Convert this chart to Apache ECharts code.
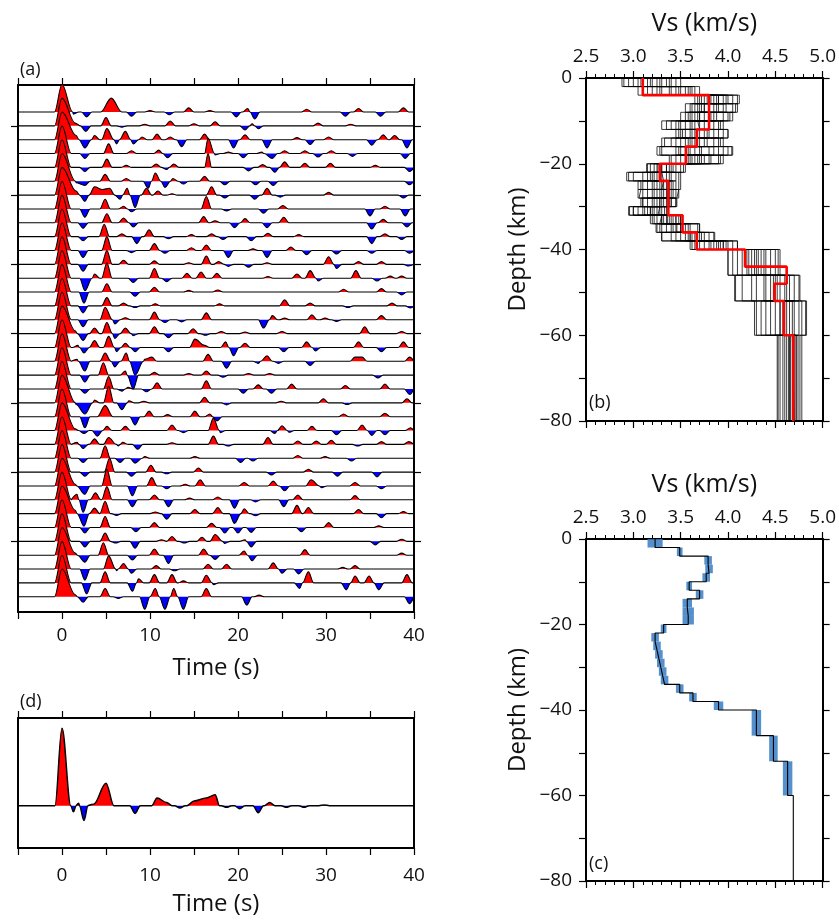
<!DOCTYPE html>
<html><head><meta charset="utf-8">
<script src="https://cdn.jsdelivr.net/npm/echarts@6/dist/echarts.min.js"></script>
<style>html,body{margin:0;padding:0;background:#fff}#chart{width:839px;height:921px}</style>
</head><body><div id="chart"></div>
<script>
// ---------------- DATA ----------------
// Panel (a): receiver-function traces, each a list of pulses [time (s), amplitude (trace spacings), halfWidthLeft?, halfWidthRight?]
const timeTicks = [0, 10, 20, 30, 40];
const traceTickRows = [2, 7, 12, 17, 22, 27, 32];
const rfTraces = [
 [[0,2,0.85,1.05],[1.3,-0.15],[2.8,-0.35],[5.6,1.0,1.2],[7.9,-0.3],[10.0,0.1],[12.2,-0.2],[14.4,0.3],[16.8,0.1],[19.8,-0.35],[21.1,0.25],[21.9,-0.5],[27.8,0.2],[32.2,-0.3],[33.7,0.25],[36.2,-0.3],[38.8,0.3]],
 [[0,2,0.85,1.05],[1.5,0.2],[2.7,-0.4],[5.0,0.6],[6.8,-0.1],[9.4,0.12],[12.3,0.35],[15.0,0.15],[17.4,0.3],[20.8,-0.3],[21.6,0.15],[22.3,-0.2],[29.1,0.2],[32.8,0.12]],
 [[0,2,0.85,1.05],[1.6,0.3],[2.6,-0.6],[3.7,0.3],[5.1,0.8],[6.2,-0.3],[7.2,0.6],[8.1,-0.3],[9.1,0.2],[10.8,0.4],[12.3,0.2],[13.6,-0.5],[16.2,0.4],[19.5,-0.6],[20.8,0.35],[23.3,-0.6],[26.7,0.15],[28.2,-0.35],[30.3,0.2],[35.2,-0.4],[36.5,0.35],[37.8,0.3],[39.2,-0.6]],
 [[0,2,0.85,1.05],[2.6,-0.35],[5.3,0.7],[7.9,0.2],[11.0,0.25],[12.0,-0.3],[16.6,1.1,0.4],[17.4,-0.1],[18.9,0.1],[20.6,-0.3],[22.7,0.1],[23.9,-0.35],[25.3,0.2],[27.6,0.2],[29.1,-0.25],[30.6,0.2],[33.0,-0.2],[39.0,-0.35]],
 [[0,2,0.85,1.05],[2.6,-0.3],[5.1,0.6],[7.3,0.15],[10.7,0.25],[11.9,-0.15],[12.7,0.25],[16.6,1.0,0.4],[21.2,-0.25],[22.8,0.2],[24.2,-0.35],[25.3,0.4],[27.6,0.3],[30.5,0.3],[35.6,0.15],[39.5,-0.3]],
 [[0,2,0.85,1.05],[1.6,-0.1],[2.6,-0.3],[4.9,0.5],[7.3,0.2],[9.8,-0.5],[10.6,0.6],[11.7,-0.45],[12.6,0.2],[13.8,-0.2],[16.2,0.35],[18.5,-0.25],[22.0,-0.25],[24.0,-0.3],[39.5,-0.25]],
 [[0,2,0.85,1.05],[1.6,0.3],[2.6,-0.45],[3.7,0.6],[4.6,0.4],[5.4,0.5],[6.6,-0.3],[7.4,0.5],[8.3,-0.9],[9.6,0.5],[10.9,0.3],[12.5,0.1],[17.0,0.6],[18.5,-0.2],[21.9,-0.3],[23.3,0.5],[24.8,-0.15],[30.3,0.2],[38.8,-0.2]],
 [[0,2,0.85,1.05],[2.6,-0.6],[4.9,0.7],[7.0,0.2],[7.9,-0.2],[16.4,0.9],[18.7,-0.15],[22.9,-0.3],[25.1,0.25],[35.0,-0.5],[36.7,0.2],[39.0,-0.5]],
 [[0,2,0.85,1.05],[2.4,-0.4],[5.1,0.65],[7.0,0.35],[8.1,-0.3],[16.1,0.45],[17.4,0.15],[19.6,-0.35],[20.8,0.3],[23.3,-0.35],[25.2,0.4],[35.2,-0.45],[36.5,0.25],[39.2,-0.3]],
 [[0,2,0.85,1.05],[2.4,-0.3],[4.8,0.9],[6.8,0.2],[8.5,-0.5],[9.9,0.5],[12.1,-0.15],[14.7,0.15],[17.0,0.2],[18.3,-0.2],[21.5,-0.3],[23.4,0.25],[26.9,0.15],[35.2,-0.5],[36.7,0.2],[38.6,-0.2]],
 [[0,2,0.85,1.05],[2.4,-0.5],[5.1,1.0],[7.9,-0.15],[10.5,0.5],[11.7,-0.2],[14.7,0.2],[16.4,0.4],[18.9,-0.5],[21.7,0.12],[23.3,-0.5],[26.0,0.25],[27.8,-0.3],[31.2,-0.25],[35.2,-0.2],[39.5,-0.2]],
 [[0,2,0.85,1.05],[2.4,-0.5],[5.1,1.0],[7.0,0.3],[10.5,0.25],[14.4,0.12],[16.4,0.6],[17.8,0.2],[18.9,-0.15],[21.2,-0.2],[23.3,0.12],[30.3,0.55],[31.2,-0.3],[33.7,0.2],[36.3,0.2],[39.4,-0.12]],
 [[0,2,0.85,1.05],[2.6,-0.9],[3.7,0.3],[5.1,1.1],[8.1,-0.3],[10.5,0.7],[11.9,-0.25],[14.2,0.35],[15.8,0.45],[17.6,0.35],[23.4,0.12],[26.7,0.3],[28.2,0.55],[29.1,-0.2],[33.4,0.55],[35.8,-0.2],[37.3,0.15],[38.6,0.15]],
 [[0,2,0.85,1.05],[2.5,-0.8],[5.1,0.6],[8.3,-0.3],[10.5,0.35],[14.4,0.12],[17.7,0.15],[32.0,0.2],[36.3,0.25],[38.6,-0.2]],
 [[0,2,0.85,1.05],[2.4,-0.5],[5.1,0.6],[7.0,0.2],[8.3,-0.12],[10.6,0.15],[17.9,0.15],[25.3,0.45],[28.2,0.2],[32.5,-0.12],[37.5,0.2],[39.6,-0.15]],
 [[0,2,0.85,1.05],[2.4,-0.5],[4.9,0.9],[6.0,-0.3],[7.2,0.15],[10.5,0.55],[11.7,-0.2],[13.6,-0.15],[16.4,0.5],[22.9,-0.6],[23.9,0.3],[25.3,0.12],[28.4,0.35],[29.9,0.12],[31.2,-0.12],[36.3,0.3]],
 [[0,2,0.85,1.05],[1.5,0.2],[2.4,-0.5],[3.7,0.4],[5.1,0.8],[6.0,-0.35],[7.2,0.4],[8.1,-0.15],[10.5,0.5],[12.1,-0.3],[14.9,0.35],[16.3,-0.12],[18.1,0.15],[20.8,0.12],[25.0,0.15],[34.4,0.5],[38.6,0.15]],
 [[0,2,0.85,1.05],[1.8,0.15],[2.5,-0.4],[3.7,0.5],[5.3,0.8],[6.2,-0.3],[7.2,0.3],[8.3,-0.3],[12.1,-0.3],[15.1,0.6],[16.2,0.15],[18.6,0.4],[19.5,-0.6],[20.8,0.3],[25.2,-0.3],[27.8,0.4],[28.8,-0.25],[33.7,0.4],[36.3,-0.3],[38.8,0.4]],
 [[0,2,0.85,1.05],[1.7,0.15],[2.6,-0.7],[4.9,0.6],[6.0,-0.4],[7.3,0.6],[8.3,-1.0],[9.4,0.15],[10.2,0.3],[16.6,0.5],[18.7,-0.5],[22.3,-0.15],[23.3,0.4],[24.6,-0.15],[28.2,-0.3],[33.3,0.3],[34.1,0.3],[39.5,0.3]],
 [[0,2,0.85,1.05],[2.6,-0.5],[4.7,0.9],[7.2,0.3],[8.1,-1.0],[10.5,0.2],[14.4,0.12],[16.4,0.3],[18.3,-0.15],[21.2,0.12],[23.6,0.12],[35.9,-0.2]],
 [[0,2,0.85,1.05],[2.6,-0.3],[5.3,0.9],[6.8,-0.15],[7.5,0.12],[9.6,-0.2],[10.8,0.45],[16.4,0.6],[20.6,-0.3],[22.3,0.3],[23.8,-0.3],[26.1,0.35],[32.2,0.25],[36.7,0.35],[39.5,-0.4]],
 [[0,2,0.85,1.05],[1.6,-0.12],[2.6,-0.8],[3.7,0.2],[5.3,1.2],[6.8,-0.5],[7.6,0.15],[9.3,0.12],[16.2,0.4],[18.7,-0.15],[24.9,0.12],[29.7,0.3],[32.4,-0.12],[39.2,0.3]],
 [[0,2,0.85,1.05],[2.6,-0.8],[4.9,0.8,0.9],[8.3,-0.6],[9.9,0.4],[12.0,0.15],[15.1,0.4],[16.8,0.2],[17.6,-0.3],[32.0,0.2],[36.7,0.25]],
 [[0,2,0.85,1.05],[1.5,0.12],[2.5,-0.2],[4.0,-0.4],[5.1,0.3],[7.2,0.3],[12.5,0.4],[13.8,-0.15],[17.2,0.9],[18.0,-0.15],[24.2,-0.2],[25.0,0.35],[25.8,-0.12],[28.4,0.3],[31.2,-0.3],[34.1,0.4],[35.2,-0.35],[36.7,-0.3],[39.6,0.2]],
 [[0,2,0.85,1.05],[1.7,0.15],[2.4,-0.3],[3.7,0.4],[5.3,0.5],[6.4,-0.12],[6.9,0.15],[8.6,-0.35],[12.5,0.12],[17.2,0.6],[18.9,-0.12],[23.4,0.5],[26.8,0.25],[28.9,0.25],[30.6,0.3],[33.6,-0.12],[36.3,0.2],[39.4,0.2]],
 [[0,2,0.85,1.05],[2.4,-0.3],[4.9,0.9],[6.6,-0.3],[8.3,-0.35],[9.4,0.12],[15.1,0.12],[20.3,-0.3],[21.7,-0.2],[26.8,0.2],[29.9,0.12],[32.9,-0.2]],
 [[0,2,0.85,1.05],[2.6,-0.3],[5.4,1.0],[7.9,-0.3],[10.1,0.5],[11.9,-0.12],[15.5,0.3],[23.8,-0.2],[28.0,0.2],[31.3,-0.3],[35.8,-0.35]],
 [[0,2,0.85,1.05],[1.5,0.12],[2.6,-0.6],[5.1,1.2],[8.0,-0.7],[10.2,0.6],[11.9,-0.2],[14.0,0.12],[15.7,0.45],[20.7,0.25],[24.0,0.35],[25.3,-0.35],[28.3,0.45],[29.5,-0.12],[33.3,0.25],[36.3,-0.2]],
 [[0,2,0.85,1.05],[1.7,0.4],[2.4,-0.9],[3.8,0.5],[5.1,0.95],[8.0,-0.5],[10.5,0.35],[12.1,-0.5],[14.5,0.12],[17.7,0.2],[19.6,-0.6],[22.0,-0.15],[25.2,-0.5],[26.8,0.35],[33.3,0.3]],
 [[0,2,0.85,1.05],[1.5,0.25],[2.5,-0.9],[3.7,0.4],[4.9,0.9],[6.2,-0.12],[10.6,0.12],[11.9,-0.4],[15.1,0.3],[17.7,0.45],[19.6,-0.7],[20.7,0.35],[22.0,-0.15],[26.7,0.6],[28.0,0.45],[33.7,0.3],[36.3,-0.3],[38.8,0.15]],
 [[0,2,0.85,1.05],[2.6,-0.4],[4.9,0.8],[8.4,-0.3],[10.5,0.35],[17.0,0.3],[18.5,-0.4],[20.0,-0.4],[21.5,-0.35],[27.2,-0.3],[30.3,0.35],[36.0,0.12]],
 [[0,2,0.85,1.05],[2.6,-0.4],[4.9,0.6],[6.1,-0.12],[8.3,-0.5],[11.3,0.12],[12.5,0.35],[13.9,-0.12],[15.9,0.3],[17.4,0.5],[18.5,-0.15],[20.8,0.12],[21.5,-0.4],[35.6,-0.25],[38.6,0.15]],
 [[0,2,0.85,1.05],[1.5,0.15],[2.6,-0.5],[4.7,0.9],[8.0,-0.35],[10.5,0.45],[12.1,-0.6],[16.1,0.45],[17.4,-0.3],[20.7,0.3],[21.6,-0.4],[27.6,0.4],[38.6,0.15]],
 [[0,2,0.85,1.05],[2.6,-0.8],[5.3,0.95],[6.2,-0.12],[7.0,0.4],[7.9,-0.3],[10.7,0.25],[12.8,-0.12],[16.6,0.35],[18.7,0.35],[24.0,0.45],[25.0,-0.3],[26.9,-0.35],[31.9,0.12],[33.3,0.25]],
 [[0,2,0.85,1.05],[2.8,-0.8],[4.9,0.8],[8.0,-0.6],[8.7,0.3],[10.5,0.6],[12.5,0.6],[13.8,0.15],[16.4,0.55],[17.2,-0.12],[27.0,-0.4],[28.0,0.8],[32.3,-0.5],[33.3,0.5],[34.9,0.5],[36.0,-0.5],[39.2,0.6]],
 [[0,2,0.85,1.05],[1.5,0.15],[2.4,-0.4],[4.9,0.6],[6.4,-0.12],[9.4,-0.9],[10.6,0.6],[11.7,-0.9],[12.7,0.6],[13.8,-0.9],[16.4,0.6],[21.0,-0.6],[22.4,0.12],[39.5,-0.5]]
];

// Panel (d): stacked receiver function, pulses [time, amplitude (P = 1), halfWidthLeft?, halfWidthRight?]
const stackPulses = [[0,1.0,0.8,1.0],[1.3,-0.08,0.3],[1.9,0.03,0.25],[2.5,-0.19,0.45],[3.6,0.02],[5.0,0.29,0.9],[8.3,-0.1],[10.8,0.1],[11.9,0.04],[13.4,-0.03],[15.0,0.06,0.8],[16.4,0.1,0.7],[17.4,0.14,0.5],[18.7,-0.02],[20.2,-0.04],[22.3,-0.09],[23.6,0.04],[25.5,-0.02],[27.5,-0.02],[29.8,0.01]];

// Panels (b), (c): Vs models
const vsTicks = [2.5, 3.0, 3.5, 4.0, 4.5, 5.0];
const depthTicks = [0, -20, -40, -60, -80];
const modelBottom = 80;
const ensembleLayerTops = [0,2,4,6,8,10,12,14,16,18,20,22,24,26,28,30,32,34,36,38,40,46,52,60];
const ensembleModels = [
 [3.10,3.30,3.80,3.75,3.70,3.60,3.70,3.55,3.50,3.62,3.30,3.20,3.28,3.25,3.30,3.10,3.35,3.45,3.55,3.85,4.20,4.45,4.60,4.65],
 [2.90,3.20,3.95,3.85,3.60,3.45,3.85,3.70,3.80,3.50,3.22,3.00,3.15,3.35,3.20,3.00,3.30,3.60,3.70,3.95,4.10,4.30,4.55,4.72],
 [3.25,3.45,3.70,3.95,3.85,3.75,3.55,3.40,3.65,3.80,3.45,3.35,3.40,3.10,3.40,3.25,3.45,3.30,3.40,3.70,4.35,4.60,4.75,4.60],
 [3.40,3.60,4.05,3.60,3.95,3.35,3.95,3.85,3.30,3.70,3.15,3.45,3.05,3.45,3.28,3.18,3.22,3.55,3.80,4.05,4.00,4.15,4.40,4.68],
 [3.00,3.10,3.85,4.05,3.55,3.90,3.65,3.95,3.95,3.40,3.50,3.10,3.45,3.20,3.45,2.95,3.50,3.40,3.60,3.65,4.50,4.70,4.50,4.55],
 [3.50,3.65,3.65,3.70,3.75,3.50,3.45,3.60,4.00,3.90,3.38,3.28,3.35,3.38,3.10,3.30,3.28,3.68,3.30,3.90,4.25,4.55,4.82,4.76],
 [3.15,3.50,4.10,3.90,4.00,3.30,3.80,3.30,3.70,3.55,3.25,2.95,3.20,3.05,3.35,3.05,3.40,3.25,3.85,4.10,4.40,4.08,4.30,4.70],
 [2.95,3.05,3.75,3.55,3.65,3.70,3.50,3.75,3.25,3.95,3.55,3.40,3.10,3.30,3.15,3.35,3.18,3.50,3.50,3.75,4.05,4.65,4.70,4.62],
 [3.30,3.40,3.90,3.80,3.50,3.80,4.00,3.65,3.85,3.65,3.18,3.50,3.50,3.42,3.38,3.15,3.48,3.35,3.65,4.00,4.30,4.40,4.65,4.58],
 [3.05,3.55,4.00,4.10,3.80,3.55,3.60,3.50,3.60,3.45,3.40,3.15,3.30,3.48,3.25,3.22,3.25,3.70,3.45,3.60,4.15,4.75,4.35,4.66],
 [3.45,3.25,3.68,3.65,4.05,3.65,3.75,3.90,3.45,3.75,3.35,3.30,3.38,3.15,3.45,3.00,3.38,3.28,3.75,3.95,4.55,4.25,4.78,4.52],
 [3.20,3.70,3.90,3.75,3.70,3.95,3.90,3.45,4.05,3.60,3.28,3.22,3.25,3.28,3.08,3.28,3.45,3.50,3.60,3.80,4.45,4.50,4.55,4.74],
 [2.88,3.15,3.72,3.62,3.58,3.40,3.48,3.33,3.28,3.38,3.14,2.93,3.08,3.06,3.10,2.96,3.20,3.24,3.30,3.62,4.00,4.07,4.28,4.53],
 [3.35,3.62,4.12,4.08,4.02,3.92,4.00,3.92,4.04,3.92,3.53,3.48,3.48,3.46,3.46,3.33,3.50,3.70,3.86,4.10,4.53,4.76,4.83,4.78],
 [3.18,3.38,3.88,3.72,3.82,3.62,3.68,3.62,3.72,3.68,3.35,3.25,3.32,3.32,3.22,3.18,3.32,3.42,3.58,3.88,4.28,4.48,4.62,4.68],
 [3.28,3.48,3.82,3.88,3.68,3.70,3.78,3.68,3.58,3.72,3.30,3.32,3.30,3.22,3.32,3.12,3.36,3.52,3.62,3.92,4.32,4.38,4.58,4.64],
 [3.08,3.58,3.98,3.68,3.88,3.48,3.62,3.78,3.90,3.58,3.42,3.18,3.42,3.36,3.28,3.26,3.42,3.58,3.68,3.82,4.22,4.62,4.68,4.70],
 [3.38,3.28,3.78,3.98,3.62,3.85,3.52,3.58,3.48,3.82,3.26,3.38,3.22,3.40,3.40,3.20,3.30,3.46,3.72,3.98,4.38,4.52,4.45,4.72]
];
const bestLayerTops = [0,4,12,16,20,24,32,36,40,44,48,52,60];
const bestVs = [3.10,3.80,3.67,3.555,3.28,3.37,3.52,3.67,4.18,4.62,4.49,4.59,4.69];
const finalLayerTops = [0,2,4,6,8,10,12,14,16,18,20,22,24,26,28,30,32,34,36,38,40,46,52,60];
const finalVs = [3.23,3.49,3.79,3.80,3.77,3.59,3.70,3.57,3.58,3.58,3.32,3.23,3.25,3.27,3.29,3.31,3.33,3.49,3.63,3.90,4.30,4.48,4.63,4.69];
const finalVsErr = [0.08,0.03,0.04,0.04,0.04,0.03,0.04,0.05,0.06,0.06,0.03,0.04,0.04,0.04,0.04,0.04,0.04,0.04,0.04,0.05,0.05,0.045,0.05,0];

// ---------------- BUILD ----------------
const FONT = '"Open Sans", "Noto Sans", sans-serif';
const RED = '#ff0000', BLUE = '#0000ff';

function buildWave(pulses, t0, t1) {
  const W = 0.6;
  const ps = pulses.map(p => ({t: p[0], a: p[1], wl: p.length > 2 ? p[2] : W, wr: p.length > 3 ? p[3] : (p.length > 2 ? p[2] : W)}))
    .sort((x, y) => x.t - y.t);
  const pts = [[t0, 0]];
  ps.forEach((p, k) => {
    if (k === 0) pts.push([p.t - p.wl, 0]);
    else {
      const q = ps[k - 1];
      const e = q.t + q.wr, s = p.t - p.wl;
      if (e < s) { pts.push([e, 0]); pts.push([s, 0]); }
      else if (e === s) pts.push([e, 0]);
      else if ((q.a > 0) !== (p.a > 0)) {
        pts.push([q.t + (p.t - q.t) * Math.abs(q.a) / (Math.abs(q.a) + Math.abs(p.a)), 0]);
      }
    }
    pts.push([p.t, p.a]);
  });
  const last = ps[ps.length - 1];
  const end = Math.min(last.t + last.wr, t1);
  pts.push([end, 0]);
  if (end < t1) pts.push([t1, 0]);
  return pts;
}

function stepPoints(tops, vs, bottom) {
  const pts = [];
  tops.forEach((top, i) => {
    const bot = i + 1 < tops.length ? tops[i + 1] : bottom;
    pts.push([vs[i], -top], [vs[i], -bot]);
  });
  return pts;
}

function waveSeries(pts, base, sign, xi, yi, mapY) {
  const data = pts.map(([t, a]) => {
    let v = a;
    if (sign > 0) v = Math.max(a, 0);
    if (sign < 0) v = Math.min(a, 0);
    return [t, mapY(base, v)];
  });
  const s = {
    type: 'line', xAxisIndex: xi, yAxisIndex: yi, data, showSymbol: false, symbol: 'none',
    smooth: 0.35, smoothMonotone: 'x', silent: true, animation: false, clip: true
  };
  if (sign === 0) {
    s.lineStyle = {color: '#000', width: 1.1};
  } else {
    s.lineStyle = {width: 0, opacity: 0};
    s.areaStyle = {color: sign > 0 ? RED : BLUE, opacity: 1, origin: base};
  }
  return s;
}

const series = [];
rfTraces.forEach((tr, i) => {
  const pts = buildWave(tr, -5, 40);
  const base = i + 1;
  const mapY = (b, v) => b - v;
  series.push(waveSeries(pts, base, 1, 0, 0, mapY));
  series.push(waveSeries(pts, base, -1, 0, 0, mapY));
  series.push(waveSeries(pts, base, 0, 0, 0, mapY));
});
{
  const pts = buildWave(stackPulses, -5, 40);
  const mapY = (b, v) => b + v;
  series.push(waveSeries(pts, 0, 1, 2, 2, mapY));
  series.push(waveSeries(pts, 0, -1, 2, 2, mapY));
  const ln = waveSeries(pts, 0, 0, 2, 2, mapY);
  ln.lineStyle.width = 1.5;
  series.push(ln);
}
ensembleModels.forEach(m => {
  series.push({type: 'line', xAxisIndex: 4, yAxisIndex: 4, data: stepPoints(ensembleLayerTops, m, modelBottom),
    showSymbol: false, symbol: 'none', silent: true, animation: false,
    lineStyle: {color: '#000', width: 0.9, opacity: 0.85}});
});
series.push({type: 'line', xAxisIndex: 4, yAxisIndex: 4, data: stepPoints(bestLayerTops, bestVs, modelBottom),
  showSymbol: false, symbol: 'none', silent: true, animation: false, z: 5,
  lineStyle: {color: RED, width: 2.6}});
{
  const band = finalLayerTops.map((top, i) => {
    const bot = i + 1 < finalLayerTops.length ? finalLayerTops[i + 1] : modelBottom;
    return [finalVs[i] - finalVsErr[i], finalVs[i] + finalVsErr[i], -top, -bot];
  });
  series.push({type: 'custom', xAxisIndex: 6, yAxisIndex: 6, data: band, silent: true, animation: false,
    encode: {x: [0, 1], y: [2, 3]},
    renderItem: (params, api) => {
      const p1 = api.coord([api.value(0), api.value(2)]);
      const p2 = api.coord([api.value(1), api.value(3)]);
      return {type: 'rect', shape: {x: p1[0], y: p1[1], width: p2[0] - p1[0], height: p2[1] - p1[1]},
        style: {fill: 'rgba(55,125,195,0.85)'}};
    }});
  series.push({type: 'line', xAxisIndex: 6, yAxisIndex: 6, data: stepPoints(finalLayerTops, finalVs, modelBottom),
    showSymbol: false, symbol: 'none', silent: true, animation: false, z: 5,
    lineStyle: {color: '#000', width: 1.1}});
}

// ---------------- AXES ----------------
const AX_LINE = {show: true, onZero: false, lineStyle: {color: '#000', width: 2}};
const TICK = (len) => ({show: true, inside: false, length: len, lineStyle: {color: '#000', width: 1.2}});
const minusFmt = v => String(v).replace('-', '\u2212');

const grids = [
  {left: 18, top: 85, width: 396, height: 527},
  {left: 18, top: 718, width: 396, height: 130},
  {left: 586, top: 78, width: 237, height: 343},
  {left: 586, top: 539, width: 237, height: 342}
];

function timeX(grid, position, withLabels, labelMargin, nameGap) {
  return {gridIndex: grid, type: 'value', min: -5, max: 40, interval: 5, position,
    axisLine: AX_LINE, axisTick: TICK(7), splitLine: {show: false},
    axisLabel: withLabels ? {show: true, fontSize: 19, color: '#111', fontFamily: FONT, margin: labelMargin,
      formatter: v => timeTicks.includes(v) ? String(v) : '', showMinLabel: true, showMaxLabel: true} : {show: false},
    name: withLabels ? 'Time (s)' : '', nameLocation: 'middle', nameGap,
    nameTextStyle: {fontSize: 24, color: '#111', fontFamily: FONT}};
}
function vsX(grid, position, withLabels, nameGap) {
  return {gridIndex: grid, type: 'value', min: 2.5, max: 5.0, interval: 0.5, position,
    axisLine: AX_LINE, axisTick: TICK(7), minorTick: {show: true, splitNumber: 5, length: 4, lineStyle: {color: '#000', width: 1}},
    splitLine: {show: false}, minorSplitLine: {show: false},
    axisLabel: withLabels ? {show: true, fontSize: 19, color: '#111', fontFamily: FONT, margin: 12,
      formatter: v => v.toFixed(1), showMinLabel: true, showMaxLabel: true} : {show: false},
    name: withLabels ? 'Vs (km/s)' : '', nameLocation: 'middle', nameGap,
    nameTextStyle: {fontSize: 25, color: '#111', fontFamily: FONT}};
}
function depthY(grid, position, withLabels) {
  return {gridIndex: grid, type: 'value', min: -80, max: 0, interval: 10, position,
    axisLine: AX_LINE, axisTick: TICK(7), splitLine: {show: false},
    axisLabel: withLabels ? {show: true, fontSize: 19, color: '#111', fontFamily: FONT, margin: 14,
      formatter: v => depthTicks.includes(v) ? minusFmt(v) : '', showMinLabel: true, showMaxLabel: true} : {show: false},
    name: withLabels ? 'Depth (km)' : '', nameLocation: 'middle', nameGap: 56, nameRotate: 90,
    nameTextStyle: {fontSize: 24, color: '#111', fontFamily: FONT}};
}

const xAxis = [
  timeX(0, 'bottom', true, 14, 44),
  timeX(0, 'top', false),
  timeX(1, 'bottom', true, 18, 44),
  timeX(1, 'top', false),
  vsX(2, 'top', true, 42),
  vsX(2, 'bottom', false),
  vsX(3, 'top', true, 42),
  vsX(3, 'bottom', false)
];
const traceY = (position) => ({gridIndex: 0, type: 'value', inverse: true, min: -0.95, max: 37.1, position,
  axisLine: AX_LINE, axisTick: {show: true, length: 7, customValues: traceTickRows, lineStyle: {color: '#000', width: 1.2}},
  axisLabel: {show: false}, splitLine: {show: false}});
const stackY = (position) => ({gridIndex: 1, type: 'value', min: -0.547, max: 1.133, position,
  axisLine: AX_LINE, axisTick: {show: false}, axisLabel: {show: false}, splitLine: {show: false}});
const yAxis = [
  traceY('left'), traceY('right'),
  stackY('left'), stackY('right'),
  depthY(2, 'left', true), depthY(2, 'right', false),
  depthY(3, 'left', true), depthY(3, 'right', false)
];

const panelLabel = (text, left, top) => ({type: 'text', left, top, z: 100,
  style: {text, fontSize: 18, fontFamily: FONT, fill: '#111'}});

const chart = echarts.init(document.getElementById('chart'), null, {renderer: 'canvas'});
chart.setOption({
  animation: false,
  backgroundColor: '#fff',
  grid: grids,
  xAxis, yAxis, series,
  graphic: [
    panelLabel('(a)', 20, 61),
    panelLabel('(d)', 20, 693),
    panelLabel('(b)', 589, 394),
    panelLabel('(c)', 589, 855)
  ]
});
</script></body></html>
